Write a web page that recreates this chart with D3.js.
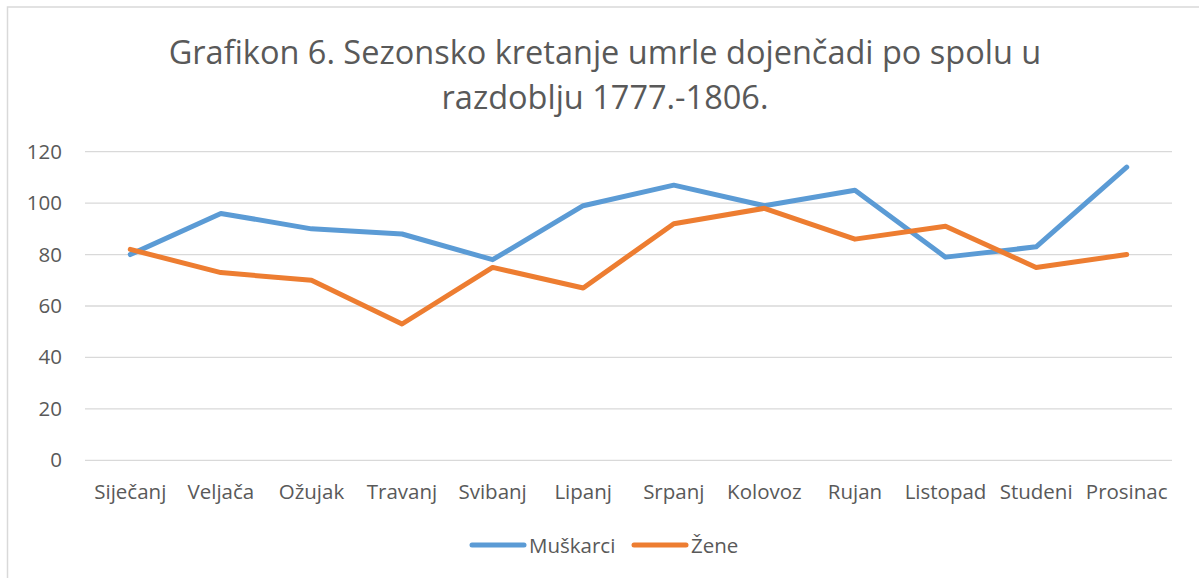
<!DOCTYPE html>
<html>
<head>
<meta charset="utf-8">
<script src="https://cdn.jsdelivr.net/npm/d3@7"></script>
<style>
  body { margin: 0; background: #fff; }
  text { font-family: "Open Sans", sans-serif; fill: #595959; }
</style>
</head>
<body>
<script>
var months = ["Siječanj", "Veljača", "Ožujak", "Travanj", "Svibanj", "Lipanj",
    "Srpanj", "Kolovoz", "Rujan", "Listopad", "Studeni", "Prosinac"];
var muskarci = [80, 96, 90, 88, 78, 99, 107, 99, 105, 79, 83, 114];
var zene = [82, 73, 70, 53, 75, 67, 92, 98, 86, 91, 75, 80];
var yTicks = [0, 20, 40, 60, 80, 100, 120];
var titleLines = ["Grafikon 6. Sezonsko kretanje umrle dojenčadi po spolu u", "razdoblju 1777.-1806."];

const width = 1199;
const height = 578;

var svg = d3.select("body").append("svg")
    .attr("width", width)
    .attr("height", height);

// chart border (right and bottom edges are cut off)
svg.append("rect")
    .attr("x", 7.5).attr("y", 7)
    .attr("width", width + 10).attr("height", height + 10)
    .attr("fill", "none")
    .attr("stroke", "#d9d9d9")
    .attr("stroke-width", 1.5);

var x = d3.scaleBand().domain(months).range([85, 1172]);
var y = d3.scaleLinear().domain([0, 120]).range([460.3, 151.7]);

// gridlines
svg.selectAll(".grid")
    .data(yTicks)
    .enter().append("line")
    .attr("x1", 85).attr("x2", 1172)
    .attr("y1", d => y(d)).attr("y2", d => y(d))
    .attr("stroke", "#d9d9d9")
    .attr("stroke-width", 1.3);

// y labels
svg.selectAll(".ylab")
    .data(yTicks)
    .enter().append("text")
    .attr("x", 62)
    .attr("y", d => y(d) + 7)
    .attr("text-anchor", "end")
    .attr("font-size", 20.5)
    .text(d => d);

// x labels
svg.selectAll(".xlab")
    .data(months)
    .enter().append("text")
    .attr("x", d => x(d) + x.bandwidth() / 2)
    .attr("y", 499)
    .attr("text-anchor", "middle")
    .attr("font-size", 20.5)
    .text(d => d);

// title
svg.selectAll(".title")
    .data(titleLines)
    .enter().append("text")
    .attr("x", 605)
    .attr("y", (d, i) => 64 + i * 45)
    .attr("text-anchor", "middle")
    .attr("font-size", 32.5)
    .text(d => d);

var line = d3.line()
    .x((d, i) => x(months[i]) + x.bandwidth() / 2)
    .y(d => y(d));

var series = [
    { name: "Muškarci", values: muskarci, colour: "#5b9bd5" },
    { name: "Žene", values: zene, colour: "#ed7d31" }
];

svg.selectAll(".series")
    .data(series)
    .enter().append("path")
    .attr("d", d => line(d.values))
    .attr("fill", "none")
    .attr("stroke", d => d.colour)
    .attr("stroke-width", 5)
    .attr("stroke-linejoin", "round")
    .attr("stroke-linecap", "round");

// legend
var legendX = [472, 634];
var leg = svg.selectAll(".legend")
    .data(series)
    .enter().append("g")
    .attr("transform", (d, i) => "translate(" + legendX[i] + ",545)");
leg.append("line")
    .attr("x1", 0).attr("x2", 52)
    .attr("stroke", d => d.colour)
    .attr("stroke-width", 5)
    .attr("stroke-linecap", "round");
leg.append("text")
    .attr("x", 57)
    .attr("y", 7.5)
    .attr("font-size", 20.5)
    .text(d => d.name);
</script>
</body>
</html>
